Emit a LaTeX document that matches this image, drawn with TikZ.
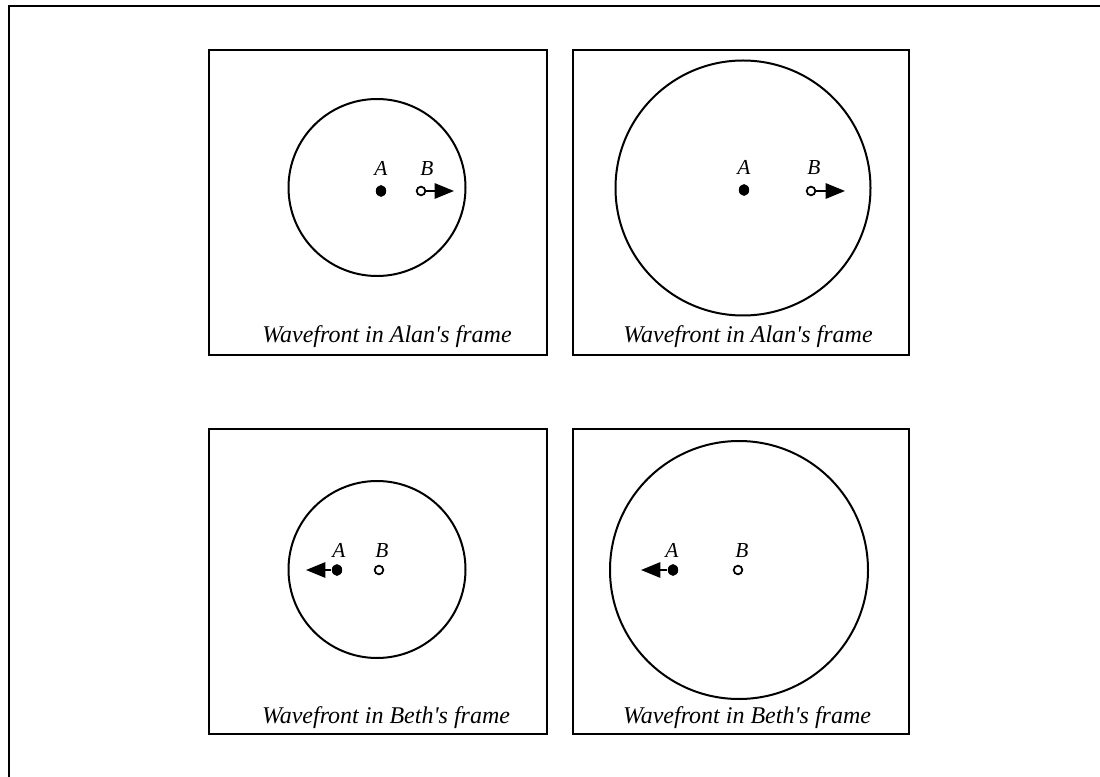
\documentclass[tikz,border=0pt]{standalone}
\usepackage{fontspec}
\setmainfont{Liberation Serif}
\usetikzlibrary{arrows.meta,shapes.geometric}
\begin{document}
\begin{tikzpicture}[x=0.75pt,y=-0.75pt,line width=1.5pt,
  panel/.style={draw,rectangle,inner sep=0pt,minimum width=#1*0.75pt,minimum height=228.75pt},
  wave/.style={draw,circle,inner sep=0pt,minimum size=#1*1.5pt},
  fdot/.style={fill=black,ellipse,inner sep=0pt,minimum width=7.8pt,minimum height=8.8pt},
  odot/.style={draw,circle,inner sep=0pt,line width=1.3pt,minimum size=6.5pt},
  lbl/.style={anchor=base,inner sep=0pt,font=\fontsize{16}{18}\selectfont\itshape},
  captext/.style={anchor=base,inner sep=0pt,font=\fontsize{18}{20}\selectfont\itshape},
  mv/.style={line width=1.4pt,-{Triangle[length=14.5pt,width=11.5pt]}}]
\useasboundingbox (0,0) rectangle (1100,777);
\draw (1100,6) -- (9,6) -- (9,777);
% panels
\node[panel=338] (p1) at (378,202.5) {};
\node[panel=336] (p2) at (741,202.5) {};
\node[panel=338] (p3) at (378,581.5) {};
\node[panel=336] (p4) at (741,581.5) {};
% wavefronts
\node[wave=88.5] (c1) at (377,187.5) {};
\node[wave=127.5] (c2) at (743,188) {};
\node[wave=88.5] (c3) at (377,569.5) {};
\node[wave=129] (c4) at (739,570) {};
% observers
\node[fdot] (a1) at (381,191) {};
\node[odot] (b1) at (421,191) {};
\coordinate (t1) at (454,191);
\draw[mv] (b1.east) -- (t1);
\node[lbl] (la1) at (381,176) {A};
\node[lbl] (lb1) at (427,176) {B};

\node[fdot] (a2) at (744,190) {};
\node[odot] (b2) at (811,191) {};
\coordinate (t2) at (845,191);
\draw[mv] (b2.east) -- (t2);
\node[lbl] (la2) at (744,175) {A};
\node[lbl] (lb2) at (814,175) {B};

\node[fdot] (a3) at (337,570) {};
\node[odot] (b3) at (379,570) {};
\coordinate (t3) at (306,570);
\draw[mv] (a3.west) -- (t3);
\node[lbl] (la3) at (339,557) {A};
\node[lbl] (lb3) at (382,557) {B};

\node[fdot] (a4) at (673,570) {};
\node[odot] (b4) at (738,570) {};
\coordinate (t4) at (641,570);
\draw[mv] (a4.west) -- (t4);
\node[lbl] (la4) at (672,557) {A};
\node[lbl] (lb4) at (742,557) {B};
% captions
\node[captext] (k1) at (387,343) {Wavefront in Alan\textquotesingle s frame};
\node[captext] (k2) at (748,343) {Wavefront in Alan\textquotesingle s frame};
\node[captext] (k3) at (386,723) {Wavefront in Beth\textquotesingle s frame};
\node[captext] (k4) at (747,723) {Wavefront in Beth\textquotesingle s frame};
\end{tikzpicture}
\end{document}
